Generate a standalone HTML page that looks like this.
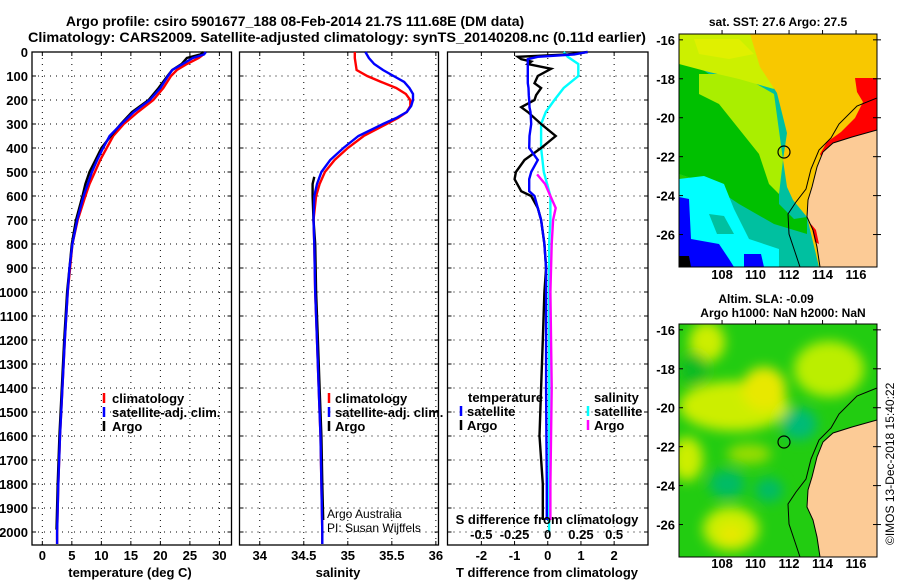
<!DOCTYPE html>
<html><head><meta charset="utf-8">
<style>
html,body{margin:0;padding:0;background:#fff;width:900px;height:580px;overflow:hidden}
svg text{font-family:"Liberation Sans",Arial,sans-serif;font-weight:bold;fill:#000}
</style></head>
<body>
<svg id="fig" width="900" height="580" viewBox="0 0 900 580">
<defs>
<filter id="blur" x="-50%" y="-50%" width="200%" height="200%"><feGaussianBlur stdDeviation="6"/></filter>
<clipPath id="c1"><rect x="0" y="0" width="198" height="233"/></clipPath>
</defs>
<text x="295" y="26" font-size="14" text-anchor="middle">Argo profile: csiro 5901677_188 08-Feb-2014 21.7S 111.68E (DM data)</text>
<text x="337" y="42" font-size="14" text-anchor="middle" textLength="618" lengthAdjust="spacingAndGlyphs">Climatology: CARS2009. Satellite-adjusted climatology: synTS_20140208.nc (0.11d earlier)</text>
<g id="panels"></g>

<!-- Map 1 -->
<text x="778" y="26" font-size="12" text-anchor="middle">sat. SST: 27.6 Argo: 27.5</text>
<g transform="translate(679,34)">
 <g clip-path="url(#c1)">
  <rect width="198" height="233" fill="#00c0a0"/>
  <polygon fill="#00c000" points="0,20 30,40 60,60 100,110 100,170 115,185 128,183 128,200 95,190 60,170 30,150 0,140"/>
  <polygon fill="#22cc00" points="0,140 30,150 50,165 30,168 0,160"/>
  <polygon fill="#aaee00" points="20,40 60,40 95,60 104,126 100,160 90,150 80,120 60,95 40,70 20,60"/>
  <polygon fill="#ccf000" points="0,0 75,0 88,30 95,55 60,45 30,38 0,30"/>
  <polygon fill="#e0f000" points="15,5 60,5 75,20 50,25 20,20"/>
  <polygon fill="#00ffff" points="0,145 25,142 45,150 55,175 70,205 100,215 100,233 0,233"/>
  <polygon fill="#00c0a0" points="30,180 45,182 55,200 38,200"/>
  <polygon fill="#0000ff" points="0,163 10,165 12,205 40,210 50,225 55,233 0,233"/>
  <polygon fill="#0000ff" points="65,220 82,220 85,233 65,233"/>
  <polygon fill="#000" points="0,222 10,222 12,233 0,233"/>
  <polygon fill="#f8c800" points="71,0 198,0 198,233 140,233 128,183 114,166 108,153 104,126 108,99 98,59 81,33"/>
  <polygon fill="#ff0000" points="176,44 198,44 198,96 173,103 152,112 145,128 141,120 148,108 162,98 176,84 184,68 178,58"/>
  <polygon fill="#fccb96" points="198,96 173,103 154,109 144,118 138,133 133,153 129,166 128,183 134,196 138,213 141,233 198,233"/>
  <polygon fill="#ff0000" points="132,190 137,196 140,210 136,208"/>
  <polyline fill="none" stroke="#000" stroke-width="1" points="198,64 178,72 160,90 152,104 140,116 132,135 127,155 117,168 109,180 110,200 116,218 121,233"/>
  <polyline fill="none" stroke="#000" stroke-width="1" points="198,96 173,103 154,109 144,118 138,133 133,153 129,166 128,183 134,196 138,213 141,233"/>
  <circle cx="105" cy="118" r="6" fill="none" stroke="#000" stroke-width="1.2"/>
 </g>
 <rect width="198" height="233" fill="none" stroke="#000" stroke-width="1"/>
</g>
<!-- Map 2 -->
<text x="766" y="303" font-size="12" text-anchor="middle">Altim. SLA: -0.09</text>
<text x="783" y="317" font-size="12" text-anchor="middle">Argo h1000: NaN h2000: NaN</text>
<g transform="translate(679,324)">
 <g clip-path="url(#c1)">
  <rect width="198" height="233" fill="#22cc11"/>
  <g filter="url(#blur)">
   <ellipse cx="28" cy="18" rx="18" ry="20" fill="#ccee00"/>
   <ellipse cx="55" cy="82" rx="55" ry="25" fill="#ccee00"/>
   <ellipse cx="85" cy="65" rx="22" ry="22" fill="#e8e800"/>
   <ellipse cx="150" cy="45" rx="35" ry="28" fill="#bbee00"/>
   <ellipse cx="8" cy="135" rx="16" ry="22" fill="#ccee00"/>
   <ellipse cx="52" cy="205" rx="28" ry="22" fill="#ccee00"/>
   <ellipse cx="52" cy="210" rx="12" ry="10" fill="#e8e800"/>
   <ellipse cx="70" cy="130" rx="22" ry="10" fill="#99dd00"/>
   <ellipse cx="120" cy="100" rx="18" ry="16" fill="#00bb77"/>
   <ellipse cx="48" cy="160" rx="18" ry="14" fill="#00bb66"/>
   <ellipse cx="90" cy="166" rx="14" ry="12" fill="#00bb66"/>
   <ellipse cx="15" cy="45" rx="14" ry="16" fill="#11bb22"/>
  </g>
  <polygon fill="#fccb96" points="198,96 173,103 154,109 144,118 138,133 133,153 129,166 128,183 134,196 138,213 141,233 198,233"/>
  <polyline fill="none" stroke="#000" stroke-width="1" points="198,64 178,72 160,90 152,104 140,116 132,135 127,155 117,168 109,180 110,200 116,218 121,233"/>
  <polyline fill="none" stroke="#000" stroke-width="1" points="198,96 173,103 154,109 144,118 138,133 133,153 129,166 128,183 134,196 138,213 141,233"/>
  <circle cx="105" cy="118" r="6" fill="none" stroke="#000" stroke-width="1.2"/>
 </g>
 <rect width="198" height="233" fill="none" stroke="#000" stroke-width="1"/>
</g>
<g id="maplabels"></g>
<text transform="translate(894,545) rotate(-90)" font-size="12" style="font-weight:normal">©IMOS 13-Dec-2018 15:40:22</text>
</svg>
<script>
// ---- data ----
const depthTicks = [0,100,200,300,400,500,600,700,800,900,1000,1100,1200,1300,1400,1500,1600,1700,1800,1900,2000];
const tempTicks = [0,5,10,15,20,25,30];
const salTicks = [34,34.5,35,35.5,36];
const salTickLabels = ["34","34.5","35","35.5","36"];
const tdiffTicks = [-2,-1,0,1,2];
const sdiffTicks = [-0.5,-0.25,0,0.25,0.5];
const sdiffTickLabels = ["-0.5","-0.25","0","0.25","0.5"];

const tempDepth = [0,10,25,50,75,100,150,200,250,300,350,400,450,500,550,600,700,800,900,1000,1200,1400,1600,1800,2000,2050];
const tempClim = [27.3,27.3,26.5,24.5,22.8,21.8,20.5,18.8,16.2,13.8,12.0,10.9,9.8,8.9,8.0,7.3,6.0,5.1,4.7,4.3,3.8,3.4,3.0,2.7,2.5,2.5];
const tempSat = [27.7,27.4,25.5,23.8,22.0,21.3,20.0,18.2,15.5,13.4,11.4,10.3,9.3,8.4,7.7,7.0,5.9,5.1,4.6,4.3,3.8,3.4,3.0,2.7,2.5,2.5];
const tempArgoDepth = [0,10,25,50,75,100,150,200,250,300,350,400,450,500,550,600,700,800,900,1000,1200,1400,1600,1800,1990];
const tempArgo = [27.3,26.8,24.5,23.6,22.0,21.2,19.7,18.0,15.2,13.3,11.6,10.0,9.0,8.0,7.3,6.8,5.7,5.0,4.6,4.2,3.7,3.3,2.9,2.6,2.4];

const salDepth = [0,25,50,75,100,125,150,175,200,225,250,275,300,350,400,450,500,550,600,700,800,1000,1200,1400,1600,1800,2000,2050];
const salClim = [35.08,35.08,35.09,35.10,35.22,35.38,35.55,35.66,35.71,35.71,35.67,35.57,35.44,35.18,35.00,34.85,34.74,34.68,34.64,34.61,34.62,34.63,34.65,34.67,34.69,34.70,34.71,34.71];
const salSat = [35.20,35.24,35.30,35.40,35.52,35.64,35.70,35.74,35.74,35.72,35.67,35.55,35.40,35.12,34.95,34.80,34.70,34.65,34.62,34.61,34.62,34.63,34.65,34.67,34.69,34.70,34.71,34.71];
const salArgoDepth = [520,550,600,700,800,1000,1200,1400,1600,1800,1950];
const salArgo = [34.62,34.60,34.60,34.61,34.63,34.64,34.66,34.68,34.70,34.71,34.72];

const tdDepth = [0,10,20,30,40,50,70,100,130,150,180,200,230,250,300,350,400,450,500,530,580,600,650,700,800,900,1000,1200,1400,1600,1800,1950];
const tdArgo = [1.2,0.6,-0.9,-0.8,-0.5,-0.6,0.1,-0.3,-0.4,-0.2,-0.35,-0.4,-0.8,-0.6,-0.2,0.24,-0.2,-0.7,-0.96,-1.0,-0.8,-0.5,-0.3,-0.2,-0.1,-0.05,-0.1,-0.15,-0.2,-0.25,-0.15,-0.15];
const tdSat = [1.2,0.8,-0.3,-0.6,-0.6,-0.6,-0.6,-0.6,-0.6,-0.58,-0.57,-0.56,-0.55,-0.52,-0.5,-0.55,-0.56,-0.3,-0.5,-0.56,-0.56,-0.4,-0.3,-0.2,-0.1,-0.05,-0.05,-0.05,-0.05,-0.04,-0.03,-0.03];
const sdDepth = [0,20,50,100,150,200,250,300,400,500,600,700,800,1000,1400,1800,2000];
const sdSat = [0.12,0.15,0.23,0.23,0.12,0.05,-0.015,-0.05,-0.05,-0.03,0.02,0.02,0.01,0.01,0.01,0.01,0.01];
const sdArgoDepth = [510,550,600,650,700,800,1000,1400,1800,1950];
const sdArgo = [-0.08,-0.02,0.02,0.06,0.04,0.03,0.02,0.03,0.02,0.02];

const latTicks = [-16,-18,-20,-22,-24,-26];
const lonTicks = [108,110,112,114,116];

// ---- drawing ----
const NS = "http://www.w3.org/2000/svg";
const root = document.getElementById('panels');
function mk(tag, attrs, parent) {
  const e = document.createElementNS(NS, tag);
  for (const k in attrs) e.setAttribute(k, attrs[k]);
  (parent || root).appendChild(e);
  return e;
}
const TOP = 52, BOT = 545;
const yD = d => TOP + d * 0.24;

function panel(name, left, right, xmin, xmax) {
  const g = mk('g', {});
  
  
  const xs = v => left + (v - xmin) / (xmax - xmin) * (right - left);
  return {g, xs, left, right};
}
function frameGrid(p, ticks) {
  depthTicks.forEach(d => {
    const l = mk('line', {x1:p.left, x2:p.right, y1:yD(d), y2:yD(d), stroke:'#000', 'stroke-width':1, 'stroke-dasharray':'1,5'}, p.g);
    
    
    mk('line', {x1:p.left, x2:p.left+4, y1:yD(d), y2:yD(d), stroke:'#000'}, p.g);
    mk('line', {x1:p.right-4, x2:p.right, y1:yD(d), y2:yD(d), stroke:'#000'}, p.g);
  });
  ticks.forEach(t => {
    const x = p.xs(t);
    const l = mk('line', {x1:x, x2:x, y1:TOP, y2:BOT, stroke:'#000', 'stroke-width':1, 'stroke-dasharray':'1,5'}, p.g);
    
    
    mk('line', {x1:x, x2:x, y1:TOP, y2:TOP+4, stroke:'#000'}, p.g);
    mk('line', {x1:x, x2:x, y1:BOT-4, y2:BOT, stroke:'#000'}, p.g);
  });
  const r = mk('rect', {x:p.left, y:TOP, width:p.right-p.left, height:BOT-TOP, fill:'none', stroke:'#000', 'stroke-width':1.3}, p.g);
  
  
}
function xLabels(p, ticks, labels, y) {
  ticks.forEach((t, i) => {
    const tx = mk('text', {x:p.xs(t), y:y, 'font-size':13, 'text-anchor':'middle'}, p.g);
    tx.textContent = labels ? labels[i] : String(t);
    
    
  });
}
function line(p, xsF, depths, vals, color, name) {
  const pts = depths.map((d, i) => xsF(vals[i]).toFixed(1) + ',' + yD(d).toFixed(1)).join(' ');
  const pl = mk('polyline', {points:pts, fill:'none', stroke:color, 'stroke-width':2.4, 'stroke-linejoin':'miter'}, p.g);
  
  
}
function text(p, x, y, s, opts, name) {
  const t = mk('text', Object.assign({x:x, y:y, 'font-size':13}, opts || {}), p.g);
  t.textContent = s;
  
  
  return t;
}
function legendMark(p, x, y, color) {
  mk('line', {x1:x, x2:x, y1:y-10, y2:y, stroke:color, 'stroke-width':2.5}, p.g);
}

// Panel 1: temperature
const p1 = panel('temperature-panel', 32, 231.5, -1.75, 32.05);
frameGrid(p1, tempTicks);
xLabels(p1, tempTicks, null, 560);
depthTicks.forEach(d => {
  const t = mk('text', {x:28, y:yD(d)+5, 'font-size':13, 'text-anchor':'end'}, p1.g);
  t.textContent = String(d);
  
  
});
line(p1, p1.xs, tempDepth, tempClim, '#ff0000', 'temp-climatology-line');
line(p1, p1.xs, tempArgoDepth, tempArgo, '#000000', 'temp-argo-line');
line(p1, p1.xs, tempDepth, tempSat, '#0000ff', 'temp-satellite-line');
text(p1, 130, 577, 'temperature (deg C)', {'text-anchor':'middle'}, 'x-axis-title-temperature');
[['climatology','#ff0000'],['satellite-adj. clim.','#0000ff'],['Argo','#000']].forEach((e, i) => {
  legendMark(p1, 104, 403 + i*14, e[1]);
  text(p1, 112, 403 + i*14, e[0], {}, 'legend-entry');
});

// Panel 2: salinity
const p2 = panel('salinity-panel', 239.5, 438.5, 33.77, 36.03);
frameGrid(p2, salTicks);
xLabels(p2, salTicks, salTickLabels, 560);
line(p2, p2.xs, salDepth, salClim, '#ff0000', 'sal-climatology-line');
line(p2, p2.xs, salArgoDepth, salArgo, '#000000', 'sal-argo-line');
line(p2, p2.xs, salDepth, salSat, '#0000ff', 'sal-satellite-line');
text(p2, 338, 577, 'salinity', {'text-anchor':'middle'}, 'x-axis-title-salinity');
[['climatology','#ff0000'],['satellite-adj. clim.','#0000ff'],['Argo','#000']].forEach((e, i) => {
  legendMark(p2, 329, 403 + i*14, e[1]);
  text(p2, 335, 403 + i*14, e[0], {}, 'legend-entry');
});
text(p2, 327, 518, 'Argo Australia', {'font-size':12, style:'font-weight:normal'}, 'credit-argo-australia');
text(p2, 327, 532, 'PI: Susan Wijffels', {'font-size':12, style:'font-weight:normal'}, 'credit-pi');

// Panel 3: differences
const p3 = panel('difference-panel', 447.5, 648, -3.02, 3.02);
const xsS = v => p3.xs(v * 4);
frameGrid(p3, tdiffTicks);
xLabels(p3, tdiffTicks, null, 560);
line(p3, xsS, sdDepth, sdSat, '#00ffff', 'sdiff-satellite-line');
line(p3, xsS, sdArgoDepth, sdArgo, '#ff00ff', 'sdiff-argo-line');
line(p3, p3.xs, tdDepth, tdArgo, '#000000', 'tdiff-argo-line');
line(p3, p3.xs, tdDepth, tdSat, '#0000ff', 'tdiff-satellite-line');
text(p3, 547, 577, 'T difference from climatology', {'text-anchor':'middle'}, 'x-axis-title-tdiff');
text(p3, 547, 524, 'S difference from climatology', {'text-anchor':'middle'}, 'sdiff-axis-title');
sdiffTicks.forEach((t, i) => {
  const tx = mk('text', {x:xsS(t), y:539, 'font-size':13, 'text-anchor':'middle'}, p3.g);
  tx.textContent = sdiffTickLabels[i];
  
  
});
text(p3, 468, 402, 'temperature', {}, 'legend-title-temperature');
legendMark(p3, 461, 416, '#0000ff'); text(p3, 467, 416, 'satellite', {}, 'legend-entry');
legendMark(p3, 461, 430, '#000'); text(p3, 467, 430, 'Argo', {}, 'legend-entry');
text(p3, 594, 402, 'salinity', {}, 'legend-title-salinity');
legendMark(p3, 588, 416, '#00ffff'); text(p3, 594, 416, 'satellite', {}, 'legend-entry');
legendMark(p3, 588, 430, '#ff00ff'); text(p3, 594, 430, 'Argo', {}, 'legend-entry');

// Map axis labels
const ml = document.getElementById('maplabels');
[[34, 279], [324, 568]].forEach(([top, ly]) => {
  latTicks.forEach(lat => {
    const y = top + (-15.7 - lat) * 19.47;
    const t = mk('text', {x:675, y:y+5, 'font-size':13, 'text-anchor':'end'}, ml);
    t.textContent = String(lat);
    
    
    mk('line', {x1:679, x2:683, y1:y, y2:y, stroke:'#000'}, ml);
    mk('line', {x1:873, x2:881, y1:y, y2:y, stroke:'#000'}, ml);
  });
  lonTicks.forEach(lon => {
    const x = 679 + (lon - 105.43) * 16.75;
    const t = mk('text', {x:x, y:ly, 'font-size':13, 'text-anchor':'middle'}, ml);
    t.textContent = String(lon);
    
    
    mk('line', {x1:x, x2:x, y1:top, y2:top-4, stroke:'#000'}, ml);
  });
});
</script>
</body></html>
